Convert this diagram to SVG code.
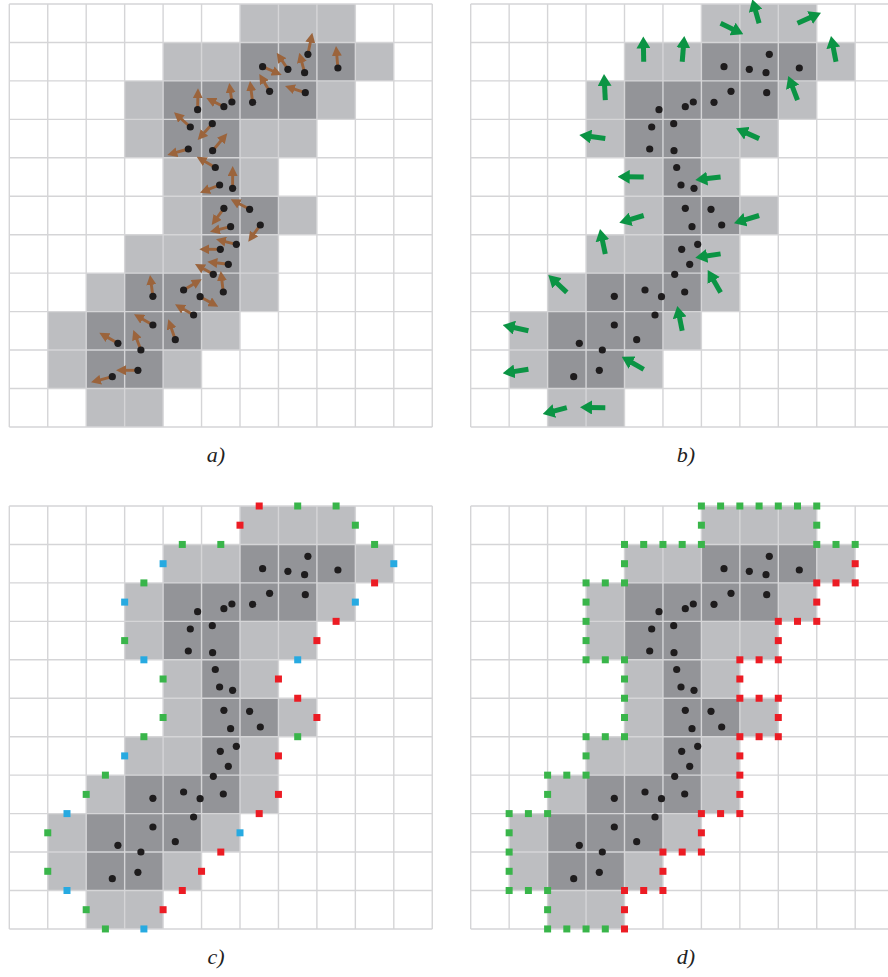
<svg xmlns="http://www.w3.org/2000/svg" xmlns:xlink="http://www.w3.org/1999/xlink" width="888" height="977" viewBox="0 0 888 977">
<style>
.grid{fill:none;stroke:#d5d5d7;stroke-width:1.4}
.lt{fill:#bdbec1}
.dk{fill:#939498}
.dot{fill:#1e1c1d}
.ba{fill:none;stroke:#9b643c;stroke-width:2.9;stroke-dasharray:70 100;marker-end:url(#hb)}
.ga{fill:none;stroke:#0b9444;stroke-width:5;stroke-dasharray:70 100;marker-end:url(#hg)}
.r{fill:#ec1c24}.g{fill:#39b54a}.b{fill:#27aae1}
.lbl{font-family:"Liberation Serif","DejaVu Serif",serif;font-style:italic;font-size:22px;fill:#222;text-anchor:middle}
</style>
<defs>
<marker id="hb" markerUnits="userSpaceOnUse" viewBox="0 0 10 10" markerWidth="10" markerHeight="10" refX="10" refY="5" orient="auto"><path d="M0,0L10,5L0,10z" fill="#9b643c"/></marker>
<marker id="hg" markerUnits="userSpaceOnUse" viewBox="0 0 12 14" markerWidth="12" markerHeight="14" refX="12" refY="7" orient="auto"><path d="M0,0L12,7L0,14z" fill="#0b9444"/></marker>
<g id="cells">
<path class="lt" d="M230.7,0h115.35v38.45h-115.35zM153.8,38.45h230.7v38.45h-230.7zM115.35,76.9h230.7v38.45h-230.7zM115.35,115.35h192.25v38.45h-192.25zM153.8,153.8h115.35v38.45h-115.35zM153.8,192.25h153.8v38.45h-153.8zM115.35,230.7h153.8v38.45h-153.8zM76.9,269.15h192.25v38.45h-192.25zM38.45,307.6h192.25v38.45h-192.25zM38.45,346.05h153.8v38.45h-153.8zM76.9,384.5h76.9v38.45h-76.9z"/>
<path class="dk" d="M230.7,38.45h115.35v38.45h-115.35zM153.8,76.9h153.8v38.45h-153.8zM153.8,115.35h76.9v38.45h-76.9zM192.25,153.8h38.45v38.45h-38.45zM192.25,192.25h76.9v38.45h-76.9zM192.25,230.7h38.45v38.45h-38.45zM115.35,269.15h115.35v38.45h-115.35zM76.9,307.6h115.35v38.45h-115.35zM76.9,346.05h76.9v38.45h-76.9z"/>
<path class="grid" d="M0,0V423M38.45,0V423M76.9,0V423M115.35,0V423M153.8,0V423M192.25,0V423M230.7,0V423M269.15,0V423M307.6,0V423M346.05,0V423M384.5,0V423M422.95,0V423M0,0H423M0,38.45H423M0,76.9H423M0,115.35H423M0,153.8H423M0,192.25H423M0,230.7H423M0,269.15H423M0,307.6H423M0,346.05H423M0,384.5H423M0,422.95H423"/>
</g>
<g id="dots" class="dot">
<circle cx="253.3" cy="62.7" r="3.6"/><circle cx="278.6" cy="65.3" r="3.6"/><circle cx="295.3" cy="68.7" r="3.6"/><circle cx="298.6" cy="50.3" r="3.6"/><circle cx="328.6" cy="64" r="3.6"/>
<circle cx="260.3" cy="87.3" r="3.6"/><circle cx="243.3" cy="98.3" r="3.6"/><circle cx="296" cy="88.7" r="3.6"/><circle cx="222.6" cy="98" r="3.6"/><circle cx="214.6" cy="102.7" r="3.6"/>
<circle cx="188.3" cy="105.7" r="3.6"/><circle cx="181" cy="123" r="3.6"/><circle cx="203" cy="119.7" r="3.6"/><circle cx="179" cy="145" r="3.6"/><circle cx="203.3" cy="146.7" r="3.6"/>
<circle cx="206" cy="163.5" r="3.6"/><circle cx="210.3" cy="181" r="3.6"/><circle cx="223.3" cy="184.3" r="3.6"/><circle cx="214.6" cy="204.3" r="3.6"/><circle cx="240.3" cy="205.3" r="3.6"/>
<circle cx="221.3" cy="222.7" r="3.6"/><circle cx="251" cy="221" r="3.6"/><circle cx="211" cy="245.3" r="3.6"/><circle cx="227" cy="240.3" r="3.6"/><circle cx="219" cy="260.3" r="3.6"/>
<circle cx="204" cy="270.3" r="3.6"/><circle cx="214" cy="288" r="3.6"/><circle cx="190.8" cy="292.7" r="3.6"/><circle cx="174.3" cy="286" r="3.6"/><circle cx="143.6" cy="292.3" r="3.6"/>
<circle cx="184.3" cy="311" r="3.6"/><circle cx="143.6" cy="321" r="3.6"/><circle cx="166" cy="335.7" r="3.6"/><circle cx="108.6" cy="339.3" r="3.6"/><circle cx="131.6" cy="346" r="3.6"/>
<circle cx="128.6" cy="366.3" r="3.6"/><circle cx="103" cy="372.7" r="3.6"/>
</g>
<rect id="sq" x="-3.5" y="-3.5" width="7" height="7"/>
</defs>

<g id="panel-a" transform="translate(9.3,4)">
<use href="#cells"/>
<g id="gradient-arrows">
<path class="ba" pathLength="100" d="M253.3,62.7L272.4,71"/>
<path class="ba" pathLength="100" d="M278.6,65.3L267.4,48.7"/>
<path class="ba" pathLength="100" d="M295.3,68.7L290,48.7"/>
<path class="ba" pathLength="100" d="M298.6,50.3L303,28.7"/>
<path class="ba" pathLength="100" d="M328.6,64L326.7,42"/>
<path class="ba" pathLength="100" d="M260.3,87.3L250,70"/>
<path class="ba" pathLength="100" d="M243.3,98.3L240.7,77"/>
<path class="ba" pathLength="100" d="M296,88.7L275.7,82"/>
<path class="ba" pathLength="100" d="M222.6,98L220,79"/>
<path class="ba" pathLength="100" d="M214.6,102.7L197,94"/>
<path class="ba" pathLength="100" d="M188.3,105.7L188.7,84.3"/>
<path class="ba" pathLength="100" d="M181,123L164.7,108.3"/>
<path class="ba" pathLength="100" d="M203,119.7L188.4,136"/>
<path class="ba" pathLength="100" d="M179,145L158,151"/>
<path class="ba" pathLength="100" d="M203.3,146.7L218,129.3"/>
<path class="ba" pathLength="100" d="M206,163.5L187.4,152.7"/>
<path class="ba" pathLength="100" d="M210.3,181L190.7,188.7"/>
<path class="ba" pathLength="100" d="M223.3,184.3L223.4,162"/>
<path class="ba" pathLength="100" d="M214.6,204.3L202.4,221"/>
<path class="ba" pathLength="100" d="M240.3,205.3L221.4,195.3"/>
<path class="ba" pathLength="100" d="M221.3,222.7L200.7,227.7"/>
<path class="ba" pathLength="100" d="M251,221L239,237.7"/>
<path class="ba" pathLength="100" d="M211,245.3L190,245.3"/>
<path class="ba" pathLength="100" d="M227,240.3L206.7,235.3"/>
<path class="ba" pathLength="100" d="M219,260.3L198,257.7"/>
<path class="ba" pathLength="100" d="M204,270.3L185.7,260"/>
<path class="ba" pathLength="100" d="M214,288L211.4,267"/>
<path class="ba" pathLength="100" d="M190.8,292.7L209,302.7"/>
<path class="ba" pathLength="100" d="M174.3,286L192.4,275.3"/>
<path class="ba" pathLength="100" d="M143.6,292.3L140.7,271"/>
<path class="ba" pathLength="100" d="M184.3,311L165.7,300.3"/>
<path class="ba" pathLength="100" d="M143.6,321L124.7,310.3"/>
<path class="ba" pathLength="100" d="M166,335.7L159,315.3"/>
<path class="ba" pathLength="100" d="M108.6,339.3L90,328.7"/>
<path class="ba" pathLength="100" d="M131.6,346L124,326"/>
<path class="ba" pathLength="100" d="M128.6,366.3L106.7,366.3"/>
<path class="ba" pathLength="100" d="M103,372.7L81.7,378.3"/>
</g>
<use href="#dots"/>
</g>
<text class="lbl" x="216" y="462">a)</text>

<g id="panel-b" transform="translate(470.7,4)">
<use href="#cells"/>
<use href="#dots"/>
<g id="normal-arrows">
<path class="ga" pathLength="100" d="M173,57.7L172.6,32.5"/>
<path class="ga" pathLength="100" d="M134.6,96.1L133.3,70"/>
<path class="ga" pathLength="100" d="M134.6,134.6L108.6,131"/>
<path class="ga" pathLength="100" d="M173,173L147,172.7"/>
<path class="ga" pathLength="100" d="M173,211.5L148.6,218.7"/>
<path class="ga" pathLength="100" d="M211.5,57.7L213.6,32"/>
<path class="ga" pathLength="100" d="M249.9,19.2L272.6,30.3"/>
<path class="ga" pathLength="100" d="M288.4,19.2L281.6,-4.7"/>
<path class="ga" pathLength="100" d="M326.8,19.2L350.3,8.7"/>
<path class="ga" pathLength="100" d="M365.3,57.7L360.3,32"/>
<path class="ga" pathLength="100" d="M326.8,96.1L317.6,72"/>
<path class="ga" pathLength="100" d="M288.4,134.6L265.3,124.3"/>
<path class="ga" pathLength="100" d="M249.9,173L224.6,176"/>
<path class="ga" pathLength="100" d="M288.4,211.5L263.3,219.3"/>
<path class="ga" pathLength="100" d="M249.9,249.9L224.6,253.7"/>
<path class="ga" pathLength="100" d="M249.9,288.4L237,266"/>
<path class="ga" pathLength="100" d="M211.5,326.8L206.6,302"/>
<path class="ga" pathLength="100" d="M134.6,249.9L129.3,225"/>
<path class="ga" pathLength="100" d="M96.1,288.4L77.6,271"/>
<path class="ga" pathLength="100" d="M57.7,326.8L32,321"/>
<path class="ga" pathLength="100" d="M57.7,365.3L32,369.3"/>
<path class="ga" pathLength="100" d="M173,365.3L151,352.7"/>
<path class="ga" pathLength="100" d="M96.1,403.7L72,410"/>
<path class="ga" pathLength="100" d="M134.6,403.7L109.3,403.3"/>
</g>
</g>
<text class="lbl" x="686" y="462">b)</text>

<g id="panel-c" transform="translate(9.3,506)">
<use href="#cells"/>
<use href="#dots"/>
<g id="edge-points">
<use href="#sq" class="r" x="249.9" y="0"/><use href="#sq" class="g" x="288.4" y="0"/><use href="#sq" class="g" x="326.8" y="0"/>
<use href="#sq" class="r" x="230.7" y="19.2"/><use href="#sq" class="g" x="346.05" y="19.2"/>
<use href="#sq" class="g" x="173" y="38.45"/><use href="#sq" class="g" x="211.5" y="38.45"/><use href="#sq" class="g" x="365.3" y="38.45"/>
<use href="#sq" class="b" x="153.8" y="57.7"/><use href="#sq" class="b" x="384.5" y="57.7"/>
<use href="#sq" class="g" x="134.6" y="76.9"/><use href="#sq" class="r" x="365.3" y="76.9"/>
<use href="#sq" class="b" x="115.35" y="96.1"/><use href="#sq" class="b" x="346.05" y="96.1"/>
<use href="#sq" class="r" x="326.8" y="115.35"/>
<use href="#sq" class="g" x="115.35" y="134.6"/><use href="#sq" class="r" x="307.6" y="134.6"/>
<use href="#sq" class="b" x="134.6" y="153.8"/><use href="#sq" class="b" x="288.4" y="153.8"/>
<use href="#sq" class="g" x="153.8" y="173"/><use href="#sq" class="r" x="269.15" y="173"/>
<use href="#sq" class="r" x="288.4" y="192.25"/>
<use href="#sq" class="g" x="153.8" y="211.5"/><use href="#sq" class="r" x="307.6" y="211.5"/>
<use href="#sq" class="g" x="134.6" y="230.7"/><use href="#sq" class="g" x="288.4" y="230.7"/>
<use href="#sq" class="b" x="115.35" y="249.9"/><use href="#sq" class="r" x="269.15" y="249.9"/>
<use href="#sq" class="g" x="96.1" y="269.15"/>
<use href="#sq" class="g" x="76.9" y="288.4"/><use href="#sq" class="r" x="269.15" y="288.4"/>
<use href="#sq" class="b" x="57.7" y="307.6"/><use href="#sq" class="r" x="249.9" y="307.6"/>
<use href="#sq" class="g" x="38.45" y="326.8"/><use href="#sq" class="b" x="230.7" y="326.8"/>
<use href="#sq" class="r" x="211.5" y="346.05"/>
<use href="#sq" class="g" x="38.45" y="365.3"/><use href="#sq" class="r" x="192.25" y="365.3"/>
<use href="#sq" class="b" x="57.7" y="384.5"/><use href="#sq" class="r" x="173" y="384.5"/>
<use href="#sq" class="g" x="76.9" y="403.7"/><use href="#sq" class="r" x="153.8" y="403.7"/>
<use href="#sq" class="g" x="96.1" y="422.95"/><use href="#sq" class="b" x="134.6" y="422.95"/>
</g>
</g>
<text class="lbl" x="216" y="964">c)</text>

<g id="panel-d" transform="translate(470.7,506)">
<use href="#cells"/>
<use href="#dots"/>
<g id="contour-green" class="g">
<use href="#sq" x="230.7" y="0"/><use href="#sq" x="249.9" y="0"/><use href="#sq" x="269.15" y="0"/><use href="#sq" x="288.4" y="0"/><use href="#sq" x="307.6" y="0"/><use href="#sq" x="326.8" y="0"/><use href="#sq" x="346.05" y="0"/>
<use href="#sq" x="230.7" y="19.2"/><use href="#sq" x="346.05" y="19.2"/>
<use href="#sq" x="153.8" y="38.45"/><use href="#sq" x="173" y="38.45"/><use href="#sq" x="192.25" y="38.45"/><use href="#sq" x="211.5" y="38.45"/><use href="#sq" x="230.7" y="38.45"/><use href="#sq" x="346.05" y="38.45"/><use href="#sq" x="365.3" y="38.45"/><use href="#sq" x="384.5" y="38.45"/>
<use href="#sq" x="153.8" y="57.7"/>
<use href="#sq" x="115.35" y="76.9"/><use href="#sq" x="134.6" y="76.9"/><use href="#sq" x="153.8" y="76.9"/>
<use href="#sq" x="115.35" y="96.1"/><use href="#sq" x="115.35" y="115.35"/><use href="#sq" x="115.35" y="134.6"/>
<use href="#sq" x="115.35" y="153.8"/><use href="#sq" x="134.6" y="153.8"/><use href="#sq" x="153.8" y="153.8"/>
<use href="#sq" x="153.8" y="173"/><use href="#sq" x="153.8" y="192.25"/><use href="#sq" x="153.8" y="211.5"/>
<use href="#sq" x="115.35" y="230.7"/><use href="#sq" x="134.6" y="230.7"/><use href="#sq" x="153.8" y="230.7"/>
<use href="#sq" x="115.35" y="249.9"/>
<use href="#sq" x="76.9" y="269.15"/><use href="#sq" x="96.1" y="269.15"/><use href="#sq" x="115.35" y="269.15"/>
<use href="#sq" x="76.9" y="288.4"/>
<use href="#sq" x="38.45" y="307.6"/><use href="#sq" x="57.7" y="307.6"/><use href="#sq" x="76.9" y="307.6"/>
<use href="#sq" x="38.45" y="326.8"/><use href="#sq" x="38.45" y="346.05"/><use href="#sq" x="38.45" y="365.3"/>
<use href="#sq" x="38.45" y="384.5"/><use href="#sq" x="57.7" y="384.5"/><use href="#sq" x="76.9" y="384.5"/>
<use href="#sq" x="76.9" y="403.7"/>
<use href="#sq" x="76.9" y="422.95"/><use href="#sq" x="96.1" y="422.95"/><use href="#sq" x="115.35" y="422.95"/><use href="#sq" x="134.6" y="422.95"/>
</g>
<g id="contour-red" class="r">
<use href="#sq" x="384.5" y="57.7"/>
<use href="#sq" x="346.05" y="76.9"/><use href="#sq" x="365.3" y="76.9"/><use href="#sq" x="384.5" y="76.9"/>
<use href="#sq" x="346.05" y="96.1"/>
<use href="#sq" x="307.6" y="115.35"/><use href="#sq" x="326.8" y="115.35"/><use href="#sq" x="346.05" y="115.35"/>
<use href="#sq" x="307.6" y="134.6"/>
<use href="#sq" x="269.15" y="153.8"/><use href="#sq" x="288.4" y="153.8"/><use href="#sq" x="307.6" y="153.8"/>
<use href="#sq" x="269.15" y="173"/>
<use href="#sq" x="269.15" y="192.25"/><use href="#sq" x="288.4" y="192.25"/><use href="#sq" x="307.6" y="192.25"/>
<use href="#sq" x="307.6" y="211.5"/>
<use href="#sq" x="269.15" y="230.7"/><use href="#sq" x="288.4" y="230.7"/><use href="#sq" x="307.6" y="230.7"/>
<use href="#sq" x="269.15" y="249.9"/><use href="#sq" x="269.15" y="269.15"/><use href="#sq" x="269.15" y="288.4"/>
<use href="#sq" x="230.7" y="307.6"/><use href="#sq" x="249.9" y="307.6"/><use href="#sq" x="269.15" y="307.6"/>
<use href="#sq" x="230.7" y="326.8"/>
<use href="#sq" x="192.25" y="346.05"/><use href="#sq" x="211.5" y="346.05"/><use href="#sq" x="230.7" y="346.05"/>
<use href="#sq" x="192.25" y="365.3"/>
<use href="#sq" x="153.8" y="384.5"/><use href="#sq" x="173" y="384.5"/><use href="#sq" x="192.25" y="384.5"/>
<use href="#sq" x="153.8" y="403.7"/><use href="#sq" x="153.8" y="422.95"/>
</g>
</g>
<text class="lbl" x="686" y="964">d)</text>
</svg>
